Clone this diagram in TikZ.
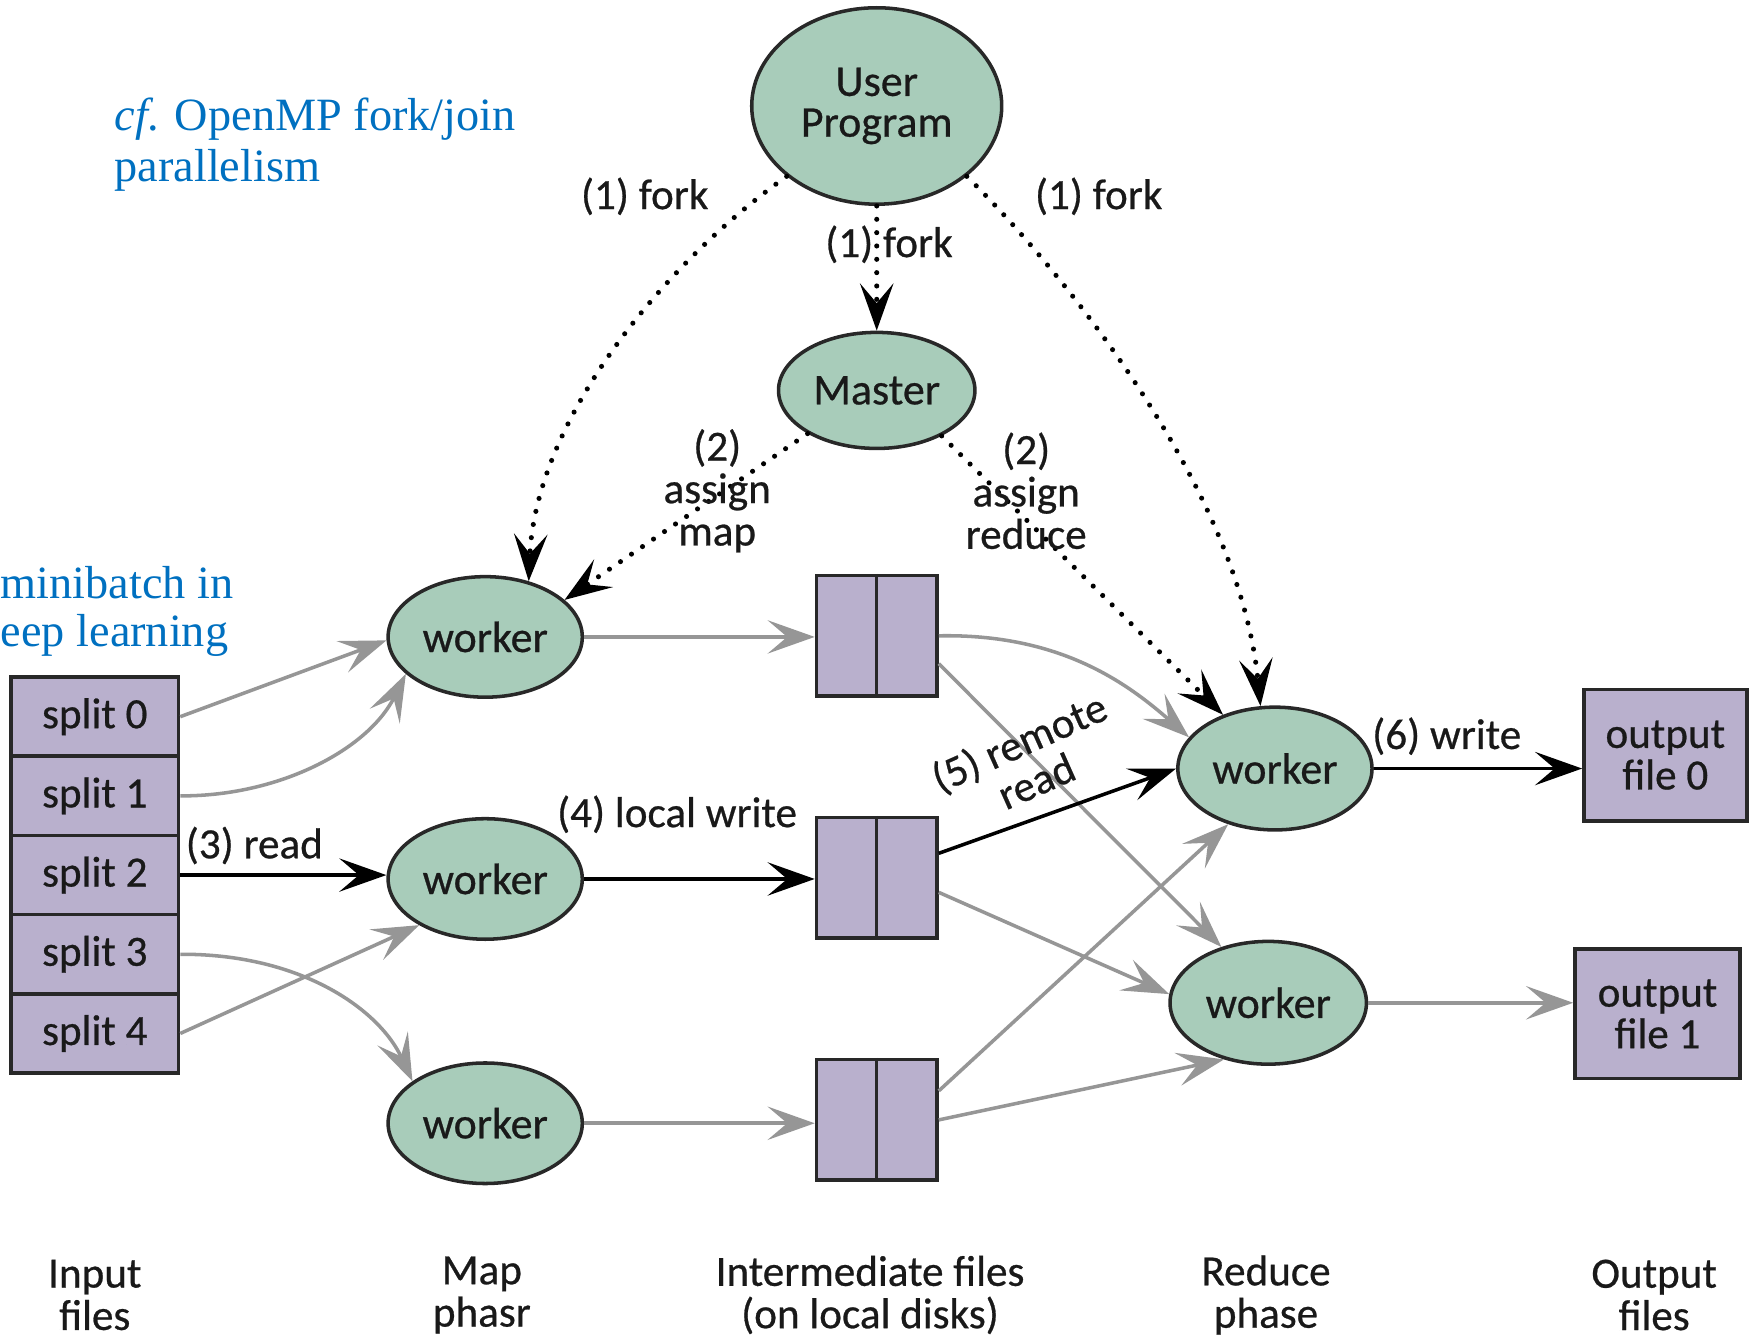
\documentclass[tikz,border=0pt]{standalone}
\usepackage{fontspec}
\setmainfont{Carlito}[FakeBold=0.6]
\newfontfamily\bluefont{Liberation Serif}
\usetikzlibrary{arrows.meta,calc,shapes.geometric}
\definecolor{nodegreen}{RGB}{168,204,186}
\definecolor{filepurple}{RGB}{185,176,205}
\definecolor{edgegray}{RGB}{150,150,150}
\definecolor{textblue}{RGB}{0,112,192}
\definecolor{bordercol}{RGB}{40,40,40}
\begin{document}
\begin{tikzpicture}[x=0.01cm,y=-0.01cm,
  lbl/.style={font=\fontsize{11pt}{10.8pt}\selectfont, align=center, inner sep=0pt, text=black!90},
  bluetext/.style={font=\bluefont\fontsize{11.8pt}{13.6pt}\selectfont, text=textblue, inner sep=0pt, anchor=base west},
  proc/.style={ellipse, draw=bordercol, line width=0.9pt, fill=nodegreen, inner sep=0pt,
    font=\fontsize{11.2pt}{10.4pt}\selectfont, align=center, text=black!90},
  filebox/.style={rectangle, draw=bordercol, line width=0.9pt, fill=filepurple, inner sep=0pt,
    font=\fontsize{11pt}{10.6pt}\selectfont, align=center, text=black!90},
  arrowtip/.style={-{Stealth[length=12pt,width=8.5pt,inset=5pt]}},
  ctl/.style={arrowtip, line width=1.3pt, dash pattern=on 0pt off 3.4pt, line cap=round, black},
  data/.style={arrowtip, line width=0.9pt, edgegray},
  mainflow/.style={arrowtip, line width=0.9pt, black},
  divider/.style={draw=bordercol, line width=0.9pt},
]
\useasboundingbox (0,0) rectangle (1568,1199);

% annotations
\node[bluetext] (cfa) at (102,117) {\textit{cf}. OpenMP fork/join};
\node[bluetext] (cfb) at (102,163) {parallelism};
\node[bluetext] (mba) at (0,537) {minibatch in};
\node[bluetext] (mbb) at (0,580) {eep learning};

% control nodes
\node[proc, minimum width=2.24cm, minimum height=1.76cm] (user) at (786,95) {User\\Program};
\node[proc, minimum width=1.76cm, minimum height=1.04cm] (master) at (786,350) {Master};

% map workers
\node[proc, minimum width=1.74cm, minimum height=1.08cm] (w1) at (435,571) {worker};
\node[proc, minimum width=1.74cm, minimum height=1.08cm] (w2) at (435,788) {worker};
\node[proc, minimum width=1.74cm, minimum height=1.08cm] (w3) at (435,1007) {worker};

% reduce workers
\node[proc, minimum width=1.74cm, minimum height=1.10cm] (rw1) at (1143,689) {worker};
\node[proc, minimum width=1.76cm, minimum height=1.10cm] (rw2) at (1137,899) {worker};

% input splits
\node[filebox, minimum width=1.5cm, minimum height=0.71cm] (s0) at (85,642.5) {split 0};
\node[filebox, minimum width=1.5cm, minimum height=0.71cm] (s1) at (85,713.5) {split 1};
\node[filebox, minimum width=1.5cm, minimum height=0.71cm] (s2) at (85,784.5) {split 2};
\node[filebox, minimum width=1.5cm, minimum height=0.71cm] (s3) at (85,855.5) {split 3};
\node[filebox, minimum width=1.5cm, minimum height=0.71cm] (s4) at (85,926.5) {split 4};

% intermediate files
\node[filebox, minimum width=1.08cm, minimum height=1.08cm] (b1) at (786,570) {};
\node[filebox, minimum width=1.08cm, minimum height=1.08cm] (b2) at (786,787) {};
\node[filebox, minimum width=1.08cm, minimum height=1.08cm] (b3) at (786,1004) {};
\draw[divider] (b1.north) -- (b1.south);
\draw[divider] (b2.north) -- (b2.south);
\draw[divider] (b3.north) -- (b3.south);

% output files
\node[filebox, minimum width=1.46cm, minimum height=1.18cm] (out0) at (1493,677) {output\\file 0};
\node[filebox, minimum width=1.48cm, minimum height=1.16cm] (out1) at (1486,909) {output\\file 1};

% phase labels
\node[lbl] (ph1) at (85,1161) {Input\\files};
\node[lbl] (ph2) at (432,1161) {Map\\phasr};
\node[lbl] (ph3) at (780,1161) {Intermediate files\\(on local disks)};
\node[lbl] (ph4) at (1135,1161) {Reduce\\phase};
\node[lbl] (ph5) at (1483,1161) {Output\\files};

% control connectors
\draw[ctl] (user.218) .. controls (590,240) and (480,380) .. (w1.52);
\draw[ctl] (user.south) -- (master.north);
\draw[ctl] (user.322) .. controls (940,230) and (1110,430) .. (rw1.103);
\draw[ctl] (master.212) -- (w1.25);
\draw[ctl] (master.325) -- (rw1.134);

% data connectors
\draw[data] (s0.east) -- (w1.182);
\draw[data] (s1.east) .. controls (250,714) and (330,672) .. (w1.205);
\draw[mainflow] (s2.east) -- (s2.east -| w2.west);
\draw[data] (s3.east) .. controls (270,855) and (340,905) .. (w3.150);
\draw[data] (s4.east) -- (w2.215);

\draw[data] (w1.east) -- (w1.east -| b1.west);
\draw[mainflow] (w2.east) -- (w2.east -| b2.west);
\draw[data] (w3.east) -- (w3.east -| b3.west);

\draw[data] (b1.east) .. controls (950,568) and (1010,612) .. (rw1.160);
\draw[data] ($(b1.east)+(0,25)$) -- (rw2.130);
\draw[mainflow] ($(b2.east)+(0,-22)$) -- (rw1.180);
\draw[data] ($(b2.east)+(0,13)$) -- (rw2.175);
\draw[data] ($(b3.east)+(0,-26)$) -- (rw1.230);
\draw[data] (b3.east) -- (rw2.232);

\draw[mainflow] (rw1.east) -- (rw1.east -| out0.west);
\draw[data] (rw2.east) -- (rw2.east -| out1.west);

% connector labels
\node[lbl] (l1a) at (578,176) {(1) fork};
\node[lbl] (l1b) at (797,219) {(1) fork};
\node[lbl] (l1c) at (985,176) {(1) fork};
\node[lbl] (l2a) at (643,440) {(2)\\assign\\map};
\node[lbl] (l2b) at (920,440) {(2)\\assign\\reduce};
\node[lbl] (l3) at (228,758) {(3) read};
\node[lbl] (l4) at (607,730) {(4) local write};
\node[lbl, rotate=24] (l5) at (921,682) {(5) remote\\read};
\node[lbl] (l6) at (1297,660) {(6) write};
\end{tikzpicture}
\end{document}
